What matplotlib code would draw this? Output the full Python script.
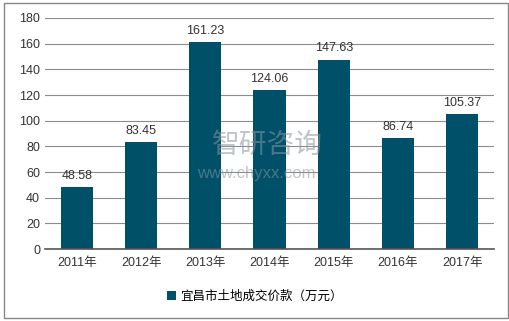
import matplotlib
matplotlib.use("Agg")
import matplotlib.pyplot as plt
from matplotlib.patches import Rectangle

plt.rcParams['font.family'] = ['Liberation Sans', 'Noto Sans CJK SC', 'DejaVu Sans']

years = ['2011年', '2012年', '2013年', '2014年', '2015年', '2016年', '2017年']
values = [48.58, 83.45, 161.23, 124.06, 147.63, 86.74, 105.37]
yticks = [0, 20, 40, 60, 80, 100, 120, 140, 160, 180]
series_name = '宜昌市土地成交价款（万元）'

fig = plt.figure(figsize=(5.10, 3.21), dpi=100)
ax = fig.add_axes([0.088, 0.224, 0.881, 0.72])

bars = ax.bar(range(len(years)), values, width=0.5, color='#00506A',
              label=series_name, zorder=3)
for i, v in enumerate(values):
    ax.text(i, v + 4, f'{v:.2f}', ha='center', va='bottom', fontsize=9, color='#333333')

ax.set_xlim(-0.5, len(years) - 0.5)
ax.set_ylim(0, 180)
ax.set_yticks(yticks)
ax.set_xticks(range(len(years)))
ax.set_xticklabels(years)
ax.tick_params(axis='both', length=0, labelsize=9, colors='#333333')
ax.tick_params(axis='x', pad=6)
ax.grid(axis='y', color='#8c8c8c', linewidth=0.8, zorder=0)
for s in ['top', 'right', 'left']:
    ax.spines[s].set_visible(False)
ax.spines['bottom'].set_color('#555555')
ax.spines['bottom'].set_linewidth(1.2)
ax.spines['bottom'].set_zorder(4)

fig.legend(handles=[bars], labels=[series_name], loc='center', bbox_to_anchor=(0.5, 0.075),
           frameon=False, fontsize=9, handlelength=0.7, handleheight=0.7, handletextpad=0.4)

# watermark
fig.text(0.525, 0.548, '智研咨询', ha='center', va='center', fontsize=20, color='#8a959e', alpha=0.55,
         family=['Noto Sans CJK SC'], zorder=10)
fig.text(0.502, 0.46, 'www.chyxx.com', ha='center', va='center', fontsize=12, color='#8a959e',
         alpha=0.55, zorder=10)

fig.patches.append(Rectangle((0.008, 0.01), 0.988, 0.98, transform=fig.transFigure,
                             fill=False, edgecolor='#888888', linewidth=1))

fig.savefig('out.png', dpi=100)
